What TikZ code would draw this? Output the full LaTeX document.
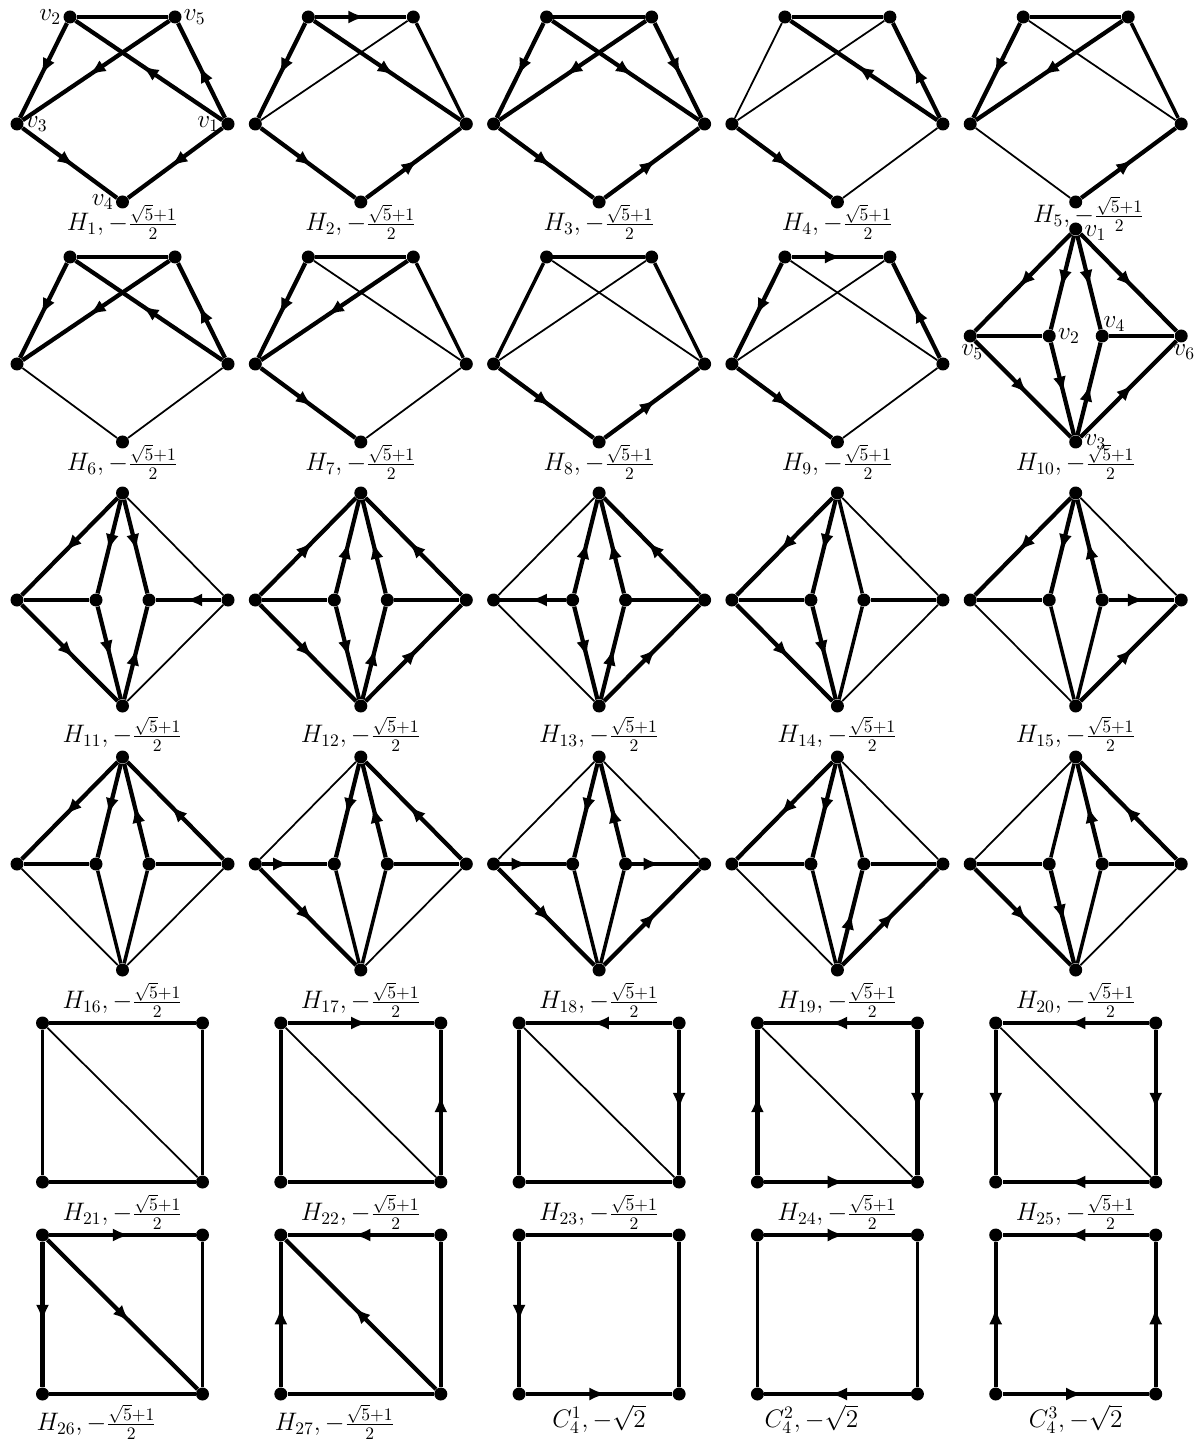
\documentclass[tikz,border=0pt]{standalone}
\usetikzlibrary{arrows.meta,positioning,decorations.markings}

\tikzset{
  dot/.style={circle,fill,inner sep=0pt,minimum size=2.6mm},
  uedge/.style={line width=2pt},
  tedge/.style={line width=1pt},
  darc/.style={line width=2.4pt,postaction={decorate,decoration={markings,mark=at position #1 with {\arrow{Latex[length=3.4mm,width=2.6mm]}}}}},
  darc/.default=0.55,
  darcs/.style={darc=0.43},
  vlab/.style={inner sep=1pt},
  glab/.style={inner sep=0pt}
}

\begin{document}
\begin{tikzpicture}[x=0.2mm,y=-0.2mm,font=\Large]
\useasboundingbox (0,0) rectangle (1195,1440);
\def\dx{238.3}
\foreach \g/\i/\y in {1/0/17,2/1/17,3/2/17,4/3/17,5/4/17,6/0/257,7/1/257,8/2/257,9/3/257}
{
 \pgfmathsetmacro\cx{122.5+\i*\dx}
 \node[dot] (g\g-2) at (\cx-52.5,\y) {};
 \node[dot] (g\g-5) at (\cx+52.5,\y) {};
 \node[dot] (g\g-3) at (\cx-105.5,\y+107) {};
 \node[dot] (g\g-1) at (\cx+105.5,\y+107) {};
 \node[dot] (g\g-4) at (\cx,\y+185) {};
}
\foreach \g/\i/\y in {10/4/336,11/0/600,12/1/600,13/2/600,14/3/600,15/4/600,16/0/864,17/1/864,18/2/864,19/3/864,20/4/864}
{
 \pgfmathsetmacro\cx{122.5+\i*\dx}
 \node[dot] (g\g-1) at (\cx,\y-107) {};
 \node[dot] (g\g-3) at (\cx,\y+106) {};
 \node[dot] (g\g-5) at (\cx-105.5,\y) {};
 \node[dot] (g\g-2) at (\cx-26.5,\y) {};
 \node[dot] (g\g-4) at (\cx+26.5,\y) {};
 \node[dot] (g\g-6) at (\cx+105.5,\y) {};
}
\foreach \g/\i/\y in {21/0/1023,22/1/1023,23/2/1023,24/3/1023,25/4/1023,26/0/1235,27/1/1235,c1/2/1235,c2/3/1235,c3/4/1235}
{
 \pgfmathsetmacro\cx{122.5+\i*\dx}
 \node[dot] (g\g-1) at (\cx-80,\y) {};
 \node[dot] (g\g-2) at (\cx+80,\y) {};
 \node[dot] (g\g-3) at (\cx+80,\y+159) {};
 \node[dot] (g\g-4) at (\cx-80,\y+159) {};
}

\foreach \s/\t/\k in {2/5/uedge,2/3/darc,5/3/darc,1/2/darc,1/5/darc,3/4/darc,1/4/darc} \draw[\k] (g1-\s) -- (g1-\t);
\foreach \s/\t/\k in {2/5/darc,2/3/darc,5/3/tedge,2/1/darc,5/1/uedge,3/4/darc,4/1/darc} \draw[\k] (g2-\s) -- (g2-\t);
\foreach \s/\t/\k in {2/5/uedge,2/3/darc,5/3/darc,2/1/darc,5/1/darc,3/4/darc,4/1/darc} \draw[\k] (g3-\s) -- (g3-\t);
\foreach \s/\t/\k in {2/5/uedge,2/3/tedge,5/3/tedge,1/2/darc,1/5/darc,3/4/darc,4/1/tedge} \draw[\k] (g4-\s) -- (g4-\t);
\foreach \s/\t/\k in {2/5/uedge,2/3/darc,5/3/darc,2/1/tedge,5/1/uedge,3/4/tedge,4/1/darc} \draw[\k] (g5-\s) -- (g5-\t);
\foreach \s/\t/\k in {2/5/uedge,2/3/darc,5/3/darc,1/2/darc,1/5/darc,3/4/tedge,4/1/tedge} \draw[\k] (g6-\s) -- (g6-\t);
\foreach \s/\t/\k in {2/5/uedge,2/3/darc,5/3/darc,2/1/tedge,5/1/uedge,3/4/darc,4/1/tedge} \draw[\k] (g7-\s) -- (g7-\t);
\foreach \s/\t/\k in {2/5/uedge,2/3/uedge,5/3/tedge,2/1/tedge,5/1/uedge,3/4/darc,4/1/darc} \draw[\k] (g8-\s) -- (g8-\t);
\foreach \s/\t/\k in {2/5/darc,2/3/darc,5/3/tedge,2/1/tedge,1/5/darc,3/4/darc,4/1/tedge} \draw[\k] (g9-\s) -- (g9-\t);

\foreach \s/\t/\k in {1/5/darc,1/2/darc,1/4/darc,1/6/darc,5/2/uedge,4/6/uedge,5/3/darc,2/3/darc,3/4/darc,3/6/darc} \draw[\k] (g10-\s) -- (g10-\t);
\foreach \s/\t/\k in {1/5/darc,1/2/darc,1/4/darc,1/6/tedge,5/2/uedge,6/4/darc,5/3/darc,2/3/darc,3/4/darc,6/3/tedge} \draw[\k] (g11-\s) -- (g11-\t);
\foreach \s/\t/\k in {5/1/darc,2/1/darc,4/1/darc,6/1/darc,5/2/uedge,4/6/uedge,5/3/darc,2/3/darc,3/4/darc,3/6/darc} \draw[\k] (g12-\s) -- (g12-\t);
\foreach \s/\t/\k in {1/5/tedge,2/1/darc,4/1/darc,6/1/darc,2/5/darc,4/6/uedge,5/3/tedge,2/3/darc,3/4/darc,3/6/darc} \draw[\k] (g13-\s) -- (g13-\t);
\foreach \s/\t/\k in {1/5/darc,1/2/darc,1/4/uedge,1/6/tedge,5/2/uedge,4/6/uedge,5/3/darc,2/3/darc,4/3/uedge,6/3/tedge} \draw[\k] (g14-\s) -- (g14-\t);
\foreach \s/\t/\k in {1/5/darc,1/2/darc,4/1/darc,1/6/tedge,5/2/uedge,4/6/darc,5/3/tedge,2/3/uedge,4/3/uedge,3/6/darc} \draw[\k] (g15-\s) -- (g15-\t);
\foreach \s/\t/\k in {1/5/darc,1/2/darc,4/1/darc,6/1/darc,5/2/uedge,4/6/uedge,5/3/tedge,2/3/uedge,4/3/uedge,6/3/tedge} \draw[\k] (g16-\s) -- (g16-\t);
\foreach \s/\t/\k in {1/5/tedge,1/2/darc,4/1/darc,6/1/darc,5/2/darcs,4/6/uedge,5/3/darc,2/3/uedge,4/3/uedge,6/3/tedge} \draw[\k] (g17-\s) -- (g17-\t);
\foreach \s/\t/\k in {1/5/tedge,1/2/darc,4/1/darc,1/6/tedge,5/2/darcs,4/6/darcs,5/3/darc,2/3/uedge,4/3/uedge,3/6/darc} \draw[\k] (g18-\s) -- (g18-\t);
\foreach \s/\t/\k in {1/5/darc,1/2/darc,1/4/uedge,1/6/tedge,5/2/uedge,4/6/uedge,5/3/tedge,2/3/uedge,3/4/darc,3/6/darc} \draw[\k] (g19-\s) -- (g19-\t);
\foreach \s/\t/\k in {1/5/tedge,1/2/uedge,4/1/darc,6/1/darc,5/2/uedge,4/6/uedge,5/3/darc,2/3/darc,4/3/uedge,6/3/tedge} \draw[\k] (g20-\s) -- (g20-\t);

\foreach \s/\t/\k in {1/2/uedge,2/3/uedge,4/3/uedge,1/4/uedge,1/3/tedge} \draw[\k] (g21-\s) -- (g21-\t);
\foreach \s/\t/\k in {1/2/darc,3/2/darc,4/3/uedge,1/4/uedge,1/3/tedge} \draw[\k] (g22-\s) -- (g22-\t);
\foreach \s/\t/\k in {2/1/darc,2/3/darc,4/3/uedge,1/4/uedge,1/3/tedge} \draw[\k] (g23-\s) -- (g23-\t);
\foreach \s/\t/\k in {2/1/darc,2/3/darc,4/3/darc,4/1/darc,1/3/tedge} \draw[\k] (g24-\s) -- (g24-\t);
\foreach \s/\t/\k in {2/1/darc,2/3/darc,3/4/darc,1/4/darc,1/3/tedge} \draw[\k] (g25-\s) -- (g25-\t);
\foreach \s/\t/\k in {1/2/darc,1/4/darc,1/3/darc,2/3/uedge,4/3/uedge} \draw[\k] (g26-\s) -- (g26-\t);
\foreach \s/\t/\k in {2/1/darc,4/1/darc,3/1/darc,2/3/uedge,4/3/uedge} \draw[\k] (g27-\s) -- (g27-\t);
\foreach \s/\t/\k in {1/2/uedge,1/4/darc,4/3/darc,2/3/uedge} \draw[\k] (gc1-\s) -- (gc1-\t);
\foreach \s/\t/\k in {1/2/darc,3/4/darc,1/4/uedge,2/3/uedge} \draw[\k] (gc2-\s) -- (gc2-\t);
\foreach \s/\t/\k in {2/1/darc,4/1/darc,3/2/darc,4/3/darc} \draw[\k] (gc3-\s) -- (gc3-\t);

\node[vlab,left=0pt of g1-2] (n1-2) {$v_2$};
\node[vlab,right=0pt of g1-5] (n1-5) {$v_5$};
\node[vlab,right=0pt of g1-3] (n1-3) {$v_3$};
\node[vlab,left=0pt of g1-1] (n1-1) {$v_1$};
\node[vlab,left=0pt of g1-4] (n1-4) {$v_4$};
\node[vlab,right=0pt of g10-1,yshift=-0.8mm] (n10-1) {$v_1$};
\node[vlab,right=0pt of g10-2] (n10-2) {$v_2$};
\node[vlab,above right=-0.4mm and -1.1mm of g10-4] (n10-4) {$v_4$};
\node[vlab,below=0pt of g10-5,xshift=0.4mm] (n10-5) {$v_5$};
\node[vlab,below=0pt of g10-6,xshift=0.6mm] (n10-6) {$v_6$};
\node[vlab,right=0pt of g10-3] (n10-3) {$v_3$};

\foreach \g/\i/\y/\s in {1/0/222/0,2/1/222/0,3/2/222/0,4/3/222/0,5/4/214/13,6/0/462/0,7/1/462/0,8/2/462/0,9/3/462/0,10/4/462/0,11/0/734/0,12/1/734/0,13/2/734/0,14/3/734/0,15/4/734/0,16/0/1000/0,17/1/1000/0,18/2/1000/0,19/3/1000/0,20/4/1000/0,21/0/1212/0,22/1/1212/0,23/2/1212/0,24/3/1212/0,25/4/1212/0,26/0/1422/-26,27/1/1422/-26}
 \node[glab] (t\g) at (122.5+\i*\dx+\s,\y) {$H_{\g},-\frac{\sqrt{5}+1}{2}$};
\foreach \k/\i/\s in {1/2/0,2/3/-26,3/4/0}
 \node[glab] (tc\k) at (122.5+\i*\dx+\s,1419) {$C_4^{\k},-\sqrt{2}$};
\end{tikzpicture}
\end{document}
